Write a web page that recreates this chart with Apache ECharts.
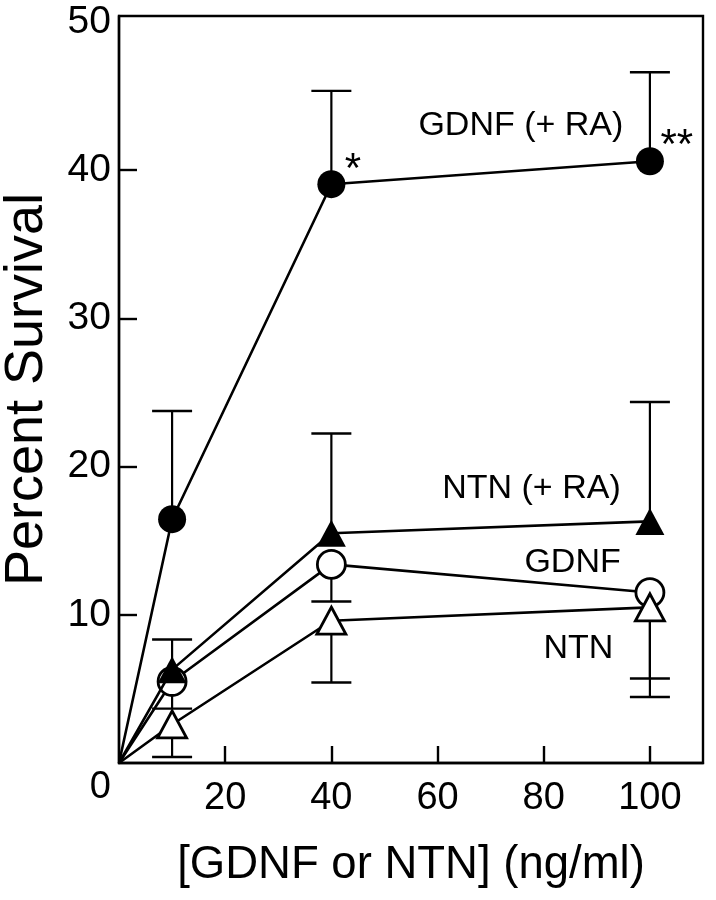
<!DOCTYPE html>
<html>
<head>
<meta charset="utf-8">
<script src="https://cdn.jsdelivr.net/npm/echarts@6/dist/echarts.min.js"></script>
<style>
html,body{margin:0;padding:0;background:#fff;}
#chart{width:716px;height:900px;}
</style>
</head>
<body>
<div id="chart"></div>
<script>
// ---- data ----
const doses = [0, 10, 40, 100];
const gdnfRA = [0, 16.45, 39.05, 40.6];
const gdnfRAHigh = [null, 23.75, 45.35, 46.6];
const ntnRA = [0, 6.3, 15.5, 16.3];
const ntnRAHigh = [null, 8.33, 22.23, 24.36];
const gdnf = [0, 5.5, 13.4, 11.5];
const gdnfLow = [null, 3.67, 10.9, 5.7];
const ntn = [0, 2.6, 9.6, 10.5];
const ntnLow = [null, 0.4, 5.43, 4.45];
const xTicks = [20, 40, 60, 80, 100];
const yLabels = [0, 10, 20, 30, 40, 50];
const yTicks = [10, 20, 30, 40];
const seriesNames = ['GDNF (+ RA)', 'NTN (+ RA)', 'GDNF', 'NTN'];
const annotText = ['GDNF (+ RA)', 'NTN (+ RA)', 'GDNF', 'NTN'];
const annotX = [95.0, 94.5, 94.5, 93.1];
const annotY = [43.0, 18.5, 13.55, 7.74];
const starText = ['*', '**'];
const starX = [42.5, 102.0];
const starY = [40.0, 41.6];

const FONT = "'Liberation Sans', Arial, Helvetica, sans-serif";

function pts(vals) {
  return doses.map((d, i) => i === 0 ? {value: [d, vals[i]], symbol: 'none'} : [d, vals[i]]);
}
function errs(center, bound) {
  const out = [];
  doses.forEach((d, i) => { if (bound[i] != null) out.push([d, center[i], bound[i]]); });
  return out;
}
function errSeries(name, data) {
  return {
    type: 'custom', name: name + ' err', z: 1, silent: true,
    data: data,
    renderItem: function (params, api) {
      const x = api.value(0);
      const c = api.coord([x, api.value(1)]);
      const b = api.coord([x, api.value(2)]);
      const hw = 20;
      return {
        type: 'group',
        children: [
          {type: 'line', shape: {x1: c[0], y1: c[1], x2: b[0], y2: b[1]}, style: {stroke: '#000', lineWidth: 2.2}},
          {type: 'line', shape: {x1: b[0] - hw, y1: b[1], x2: b[0] + hw, y2: b[1]}, style: {stroke: '#000', lineWidth: 2.4}}
        ]
      };
    }
  };
}
function lineSeries(name, vals, symbol, filled, z) {
  return {
    type: 'line', name: name, data: pts(vals), z: z,
    symbol: symbol,
    symbolSize: symbol === 'triangle' ? [29, 27] : 28,
    showAllSymbol: true,
    lineStyle: {color: '#000', width: 2.6},
    itemStyle: {color: filled ? '#000' : '#fff', borderColor: '#000', borderWidth: filled ? 0 : 2.8, opacity: 1},
    emphasis: {disabled: true},
    animation: false
  };
}

const chart = echarts.init(document.getElementById('chart'), null, {renderer: 'canvas'});
chart.setOption({
  backgroundColor: '#fff',
  animation: false,
  grid: {left: 119, right: 13, top: 16, bottom: 137, show: true, containLabel: false, outerBoundsMode: 'none',
         borderColor: '#000', borderWidth: 2.4, backgroundColor: 'transparent'},
  xAxis: {
    type: 'value', min: 0, max: 110,
    name: '[GDNF or NTN] (ng/ml)', nameLocation: 'middle', nameGap: 79,
    nameTextStyle: {fontFamily: FONT, fontSize: 45.5, color: '#000'},
    axisLine: {show: true, onZero: false, lineStyle: {color: '#000', width: 2.4}},
    axisTick: {show: true, inside: true, length: 17, customValues: xTicks, lineStyle: {color: '#000', width: 2.4}},
    axisLabel: {customValues: xTicks, margin: 17, fontFamily: FONT, fontSize: 38, color: '#000'},
    splitLine: {show: false}
  },
  yAxis: {
    type: 'value', min: 0, max: 50.4,
    name: 'Percent Survival', nameLocation: 'middle', nameGap: 65,
    nameTextStyle: {fontFamily: FONT, fontSize: 54, color: '#000'},
    axisLine: {show: true, onZero: false, lineStyle: {color: '#000', width: 2.4}},
    axisTick: {show: true, inside: true, length: 18, customValues: yTicks, lineStyle: {color: '#000', width: 2.4}},
    axisLabel: {
      customValues: yLabels, margin: 8, fontFamily: FONT, fontSize: 39, color: '#000',
      formatter: function (v) { return v === 0 ? '{z|0}' : String(v); },
      rich: {z: {fontFamily: FONT, fontSize: 38, color: '#000', padding: [50, 0, 0, 0]}}
    },
    splitLine: {show: false}
  },
  series: [
    errSeries('GDNF (+ RA)', errs(gdnfRA, gdnfRAHigh)),
    errSeries('NTN (+ RA)', errs(ntnRA, ntnRAHigh)),
    errSeries('GDNF', errs(gdnf, gdnfLow)),
    errSeries('NTN', errs(ntn, ntnLow)),
    lineSeries(seriesNames[0], gdnfRA, 'circle', true, 5),
    lineSeries(seriesNames[2], gdnf, 'circle', false, 3),
    lineSeries(seriesNames[1], ntnRA, 'triangle', true, 4),
    lineSeries(seriesNames[3], ntn, 'triangle', false, 6),
    {
      type: 'scatter', name: 'labels', z: 10, silent: true, symbolSize: 0,
      itemStyle: {opacity: 1, color: '#000'},
      data: annotText.map((t, i) => ({name: t, value: [annotX[i], annotY[i]]})),
      label: {show: true, position: 'left', distance: 0, formatter: '{b}', fontFamily: FONT, fontSize: 34, color: '#000'}
    },
    {
      type: 'scatter', name: 'stars', z: 10, silent: true, symbolSize: 0,
      itemStyle: {opacity: 1, color: '#000'},
      data: starText.map((t, i) => ({name: t, value: [starX[i], starY[i]]})),
      label: {show: true, position: 'right', distance: 0, formatter: '{b}', fontFamily: FONT, fontSize: 42, color: '#000'}
    }
  ]
});
</script>
</body>
</html>
